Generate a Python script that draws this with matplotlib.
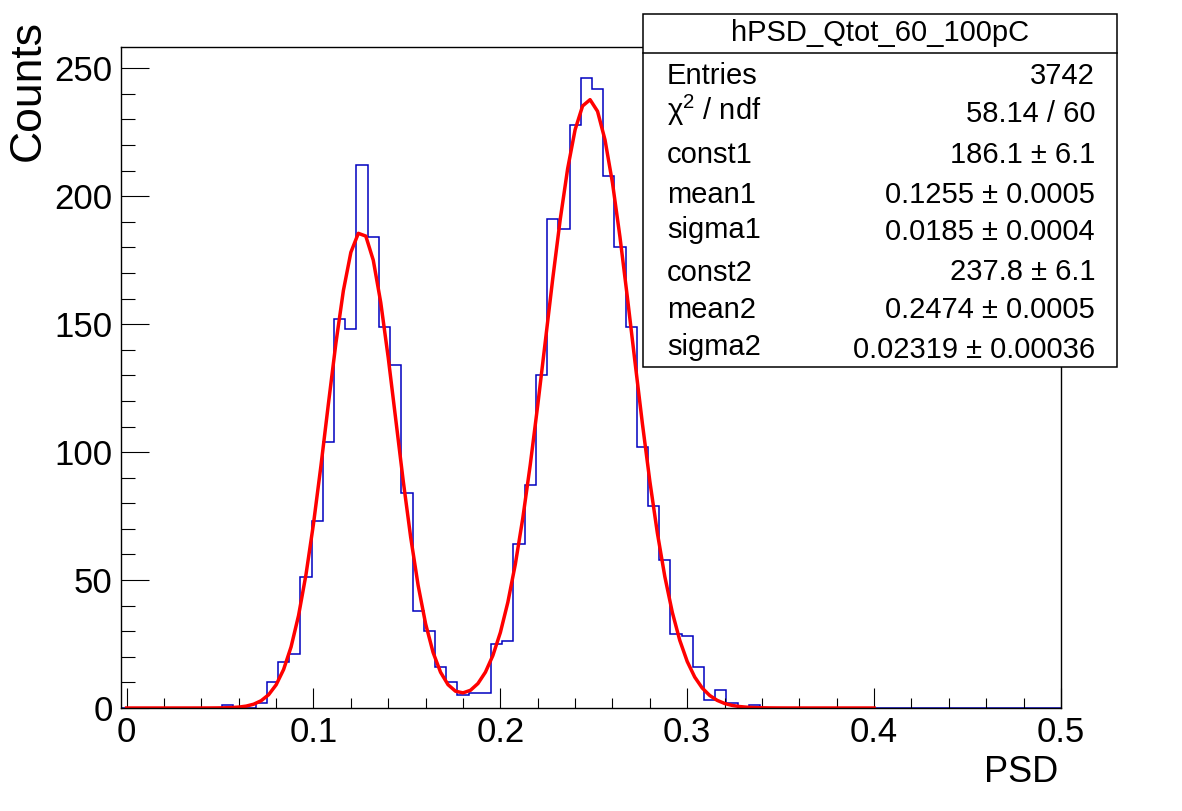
import numpy as np
import matplotlib
matplotlib.use('Agg')
import matplotlib.pyplot as plt
from matplotlib.patches import Rectangle
from matplotlib.lines import Line2D

plt.rcParams['font.family'] = ['Liberation Sans', 'DejaVu Sans']
plt.rcParams['mathtext.fontset'] = 'custom'
plt.rcParams['mathtext.rm'] = 'Liberation Sans'
plt.rcParams['mathtext.it'] = 'Liberation Sans'
plt.rcParams['mathtext.default'] = 'regular'

# #############################################################################
# Histogram data (bin width 0.006, first bin centred on 0)
bin_width = 0.006
bin_start = -0.003
counts = [0, 0, 0, 0, 0, 0, 0, 0, 0, 1,
          0, 0, 2, 10, 18, 21, 51, 73, 104, 152,
          148, 212, 184, 149, 134, 84, 38, 30, 16, 10,
          5, 6, 6, 25, 26, 64, 87, 130, 191, 187,
          228, 246, 242, 208, 180, 149, 102, 79, 58, 29,
          28, 16, 3, 7, 2, 0, 1, 0, 0, 0,
          0, 0, 0, 0, 0, 0, 0, 0, 0, 0,
          0, 0, 0, 0, 0, 0, 0, 0, 0, 0,
          0, 0, 0, 0]
edges = bin_start + bin_width * np.arange(len(counts) + 1)

# fit result (double gaussian) as printed in the stats box
fit_const = [186.1, 237.8]
fit_mean = [0.1255, 0.2474]
fit_sigma = [0.0185, 0.02319]
fit_range = (0.0, 0.4)

hist_name = 'hPSD_Qtot_60_100pC'
stat_labels = ['Entries', 'χ$^{2}$ / ndf', 'const1', 'mean1', 'sigma1',
               'const2', 'mean2', 'sigma2']
stat_values = ['3742', '58.14 / 60', '186.1 ± 6.1', '0.1255 ± 0.0005',
               '0.0185 ± 0.0004', '237.8 ± 6.1', '0.2474 ± 0.0005',
               '0.02319 ± 0.00036']

xticks = [0, 0.1, 0.2, 0.3, 0.4, 0.5]
xticklabels = ['0', '0.1', '0.2', '0.3', '0.4', '0.5']
yticks = [0, 50, 100, 150, 200, 250]

# #############################################################################
# Figure
W, H = 1182, 811
fig = plt.figure(figsize=(W / 100, H / 100), dpi=100)


def fx(px):
    return px / W


def fy(py):
    return 1 - py / H


ax = fig.add_axes([fx(121), fy(708), fx(1061) - fx(121), fy(47) - fy(708)])

ax.stairs(counts, edges, color='#0000c0', lw=1.1)

xf = np.linspace(fit_range[0], fit_range[1], 101)
yf = np.zeros_like(xf)
for c, m, s in zip(fit_const, fit_mean, fit_sigma):
    yf += c * np.exp(-0.5 * ((xf - m) / s) ** 2)
ax.plot(xf, yf, color='red', lw=2.5)

ax.set_xlim(bin_start, 0.5)
ax.set_ylim(0, 1.05 * max(counts))

ax.set_xticks(xticks)
ax.set_xticklabels(xticklabels)
ax.set_xticks(np.arange(0, 0.5001, 0.02), minor=True)
ax.set_yticks(yticks)
ax.set_yticks(np.arange(0, 251, 10), minor=True)

ax.tick_params(axis='both', which='both', direction='in', top=False,
               right=False, width=0.8, labelsize=25, pad=6)
ax.tick_params(axis='x', which='major', length=14.3)
ax.tick_params(axis='x', which='minor', length=7.1)
ax.tick_params(axis='y', which='major', length=20.3)
ax.tick_params(axis='y', which='minor', length=10.1)
for sp in ax.spines.values():
    sp.set_linewidth(1.0)

fig.text(fx(1058), fy(773), 'PSD', ha='right', va='center', fontsize=26)
fig.text(fx(28), fy(20), 'Counts', rotation=90, ha='center', va='top',
         fontsize=32)

# #############################################################################
# Stats box
box_l, box_r, box_t, box_b = 643, 1117, 14, 367
fig.patches.append(Rectangle((fx(box_l), fy(box_b)), fx(box_r) - fx(box_l),
                             fy(box_t) - fy(box_b), transform=fig.transFigure,
                             facecolor='white', edgecolor='black', lw=1.1,
                             zorder=5))
fig.lines.append(Line2D([fx(box_l), fx(box_r)], [fy(52.5), fy(52.5)],
                        transform=fig.transFigure, color='black', lw=1.1,
                        zorder=6))
fig.text(fx((box_l + box_r) / 2), fy(33), hist_name, ha='center',
         va='center', fontsize=21, zorder=7)

label_base = [84, 119.5, 162.7, 202.7, 237.7, 280.7, 318, 355]
value_base = [84, 121.7, 162.7, 202.7, 240, 280, 318, 358]
for lab, val, yl, yv in zip(stat_labels, stat_values, label_base, value_base):
    fig.text(fx(667), fy(yl), lab, ha='left', va='baseline', fontsize=21,
             zorder=7)
    fig.text(fx(1095), fy(yv), val, ha='right', va='baseline', fontsize=21,
             zorder=7)

fig.savefig('out.png', dpi=100)
